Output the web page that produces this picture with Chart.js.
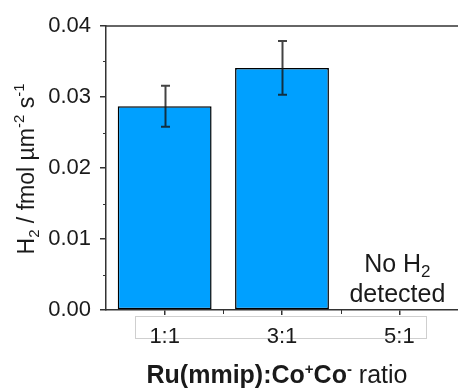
<!DOCTYPE html>
<html>
<head>
<meta charset="utf-8">
<script src="https://cdn.jsdelivr.net/npm/chart.js@4.4.1/dist/chart.umd.min.js"></script>
<style>
  html, body { margin: 0; padding: 0; background: #fff; overflow: hidden; }
  #wrap { width: 458px; height: 392px; }
</style>
</head>
<body>
<div id="wrap"><canvas id="h2Chart" width="458" height="392"></canvas></div>
<script>
// H2 evolution rate per Ru(mmip):Co+Co- ratio
const ratios = ['1:1', '3:1', '5:1'];
const rates = [0.0287, 0.0341, null];     // fmol µm^-2 s^-1, none detected at 5:1
const errLow = [0.0258, 0.0303, null];
const errHigh = [0.0316, 0.0379, null];
const yTicks = [0, 0.01, 0.02, 0.03, 0.04];
const yMinorTicks = [0.005, 0.015, 0.025, 0.035];

const FONT = "'Liberation Sans', Arial, sans-serif";
const AXIS = '#333333';
const TEXT = '#1a1a1a';

// draws a line of text made of runs (sub/superscripts, mixed weights)
function drawRuns(ctx, runs, cx, baseY) {
  let total = 0;
  runs.forEach(r => {
    ctx.font = (r.bold ? 'bold ' : '') + r.size + 'px ' + FONT;
    r.w = ctx.measureText(r.t).width;
    total += r.w;
  });
  let x = cx - total / 2;
  ctx.textAlign = 'left';
  ctx.textBaseline = 'alphabetic';
  runs.forEach(r => {
    ctx.font = (r.bold ? 'bold ' : '') + r.size + 'px ' + FONT;
    ctx.fillText(r.t, x, baseY + (r.dy || 0));
    x += r.w;
  });
}

const extras = {
  id: 'extras',
  beforeDraw(chart) {
    const ctx = chart.ctx;
    const area = chart.chartArea;
    const xs = chart.scales.x;
    // frame round the tick labels
    ctx.save();
    ctx.strokeStyle = '#cfcfcf';
    ctx.lineWidth = 1;
    const l = Math.round(xs.getPixelForValue(0) - 30) + 0.5;
    const r = Math.round(xs.getPixelForValue(2) + 27) + 0.5;
    ctx.strokeRect(l, area.bottom + 6.5, r - l, 22);
    ctx.restore();
  },
  afterDatasetsDraw(chart) {
    const ctx = chart.ctx;
    const area = chart.chartArea;
    const ys = chart.scales.y;
    const xs = chart.scales.x;
    const meta = chart.getDatasetMeta(0);

    // error bars
    ctx.save();
    ctx.strokeStyle = 'rgba(20,20,20,0.8)';
    ctx.lineWidth = 2;
    meta.data.forEach((bar, i) => {
      if (rates[i] == null) return;
      const x = Math.round(bar.x) + 0.5;
      const yh = ys.getPixelForValue(errHigh[i]);
      const yl = ys.getPixelForValue(errLow[i]);
      ctx.beginPath();
      ctx.moveTo(x, yh); ctx.lineTo(x, yl);
      ctx.moveTo(x - 4.5, yh); ctx.lineTo(x + 4.5, yh);
      ctx.moveTo(x - 4.5, yl); ctx.lineTo(x + 4.5, yl);
      ctx.stroke();
    });
    ctx.restore();

    // top frame line and minor ticks
    ctx.save();
    ctx.strokeStyle = AXIS;
    ctx.lineWidth = 1.5;
    ctx.beginPath();
    ctx.moveTo(area.left, area.top);
    ctx.lineTo(chart.width, area.top);
    ctx.stroke();
    ctx.lineWidth = 1;
    ctx.beginPath();
    yMinorTicks.forEach(v => {
      const y = Math.round(ys.getPixelForValue(v)) + 0.5;
      ctx.moveTo(area.left - 3, y); ctx.lineTo(area.left, y);
    });
    for (let i = 0; i < ratios.length - 1; i++) {
      const x = Math.round((xs.getPixelForValue(i) + xs.getPixelForValue(i + 1)) / 2) + 0.5;
      ctx.moveTo(x, area.bottom); ctx.lineTo(x, area.bottom + 4);
    }
    ctx.stroke();
    ctx.restore();

    // note over the empty 5:1 slot
    ctx.save();
    ctx.fillStyle = TEXT;
    const nx = xs.getPixelForValue(2) - 2;
    drawRuns(ctx, [
      { t: 'No H', size: 25 },
      { t: '2', size: 17, dy: 5 }
    ], nx, area.bottom - 38);
    drawRuns(ctx, [{ t: 'detected', size: 25 }], nx, area.bottom - 8);
    ctx.restore();

    // axis titles
    ctx.save();
    ctx.fillStyle = TEXT;
    drawRuns(ctx, [
      { t: 'Ru(mmip):Co', size: 25, bold: true },
      { t: '+', size: 15, bold: true, dy: -9 },
      { t: 'Co', size: 25, bold: true },
      { t: '-', size: 15, bold: true, dy: -9 },
      { t: ' ratio', size: 25 }
    ], 277, 383);

    ctx.translate(34, 169);
    ctx.rotate(-Math.PI / 2);
    drawRuns(ctx, [
      { t: 'H', size: 23 },
      { t: '2', size: 15, dy: 5 },
      { t: ' / fmol µm', size: 23 },
      { t: '-2', size: 15, dy: -10 },
      { t: ' s', size: 23 },
      { t: '-1', size: 15, dy: -10 }
    ], 0, 0);
    ctx.restore();
  }
};

new Chart(document.getElementById('h2Chart'), {
  type: 'bar',
  data: {
    labels: ratios,
    datasets: [{
      data: rates,
      backgroundColor: 'rgb(0,160,255)',
      borderColor: '#000',
      borderWidth: 1.5,
      borderSkipped: false,
      barPercentage: 0.8,
      categoryPercentage: 1
    }]
  },
  options: {
    responsive: false,
    animation: false,
    devicePixelRatio: 1,
    layout: { padding: { top: 26, left: 0, right: 0, bottom: 0 } },
    plugins: { legend: { display: false }, tooltip: { enabled: false } },
    scales: {
      x: {
        offset: true,
        grid: { offset: false, drawOnChartArea: false, tickLength: 5, color: AXIS, lineWidth: 1.5 },
        border: { color: AXIS, width: 1.5 },
        ticks: { color: TEXT, font: { family: FONT, size: 22 }, padding: 9, maxRotation: 0 },
        afterFit(scale) { scale.height = 82; }
      },
      y: {
        min: 0,
        max: 0.04,
        afterBuildTicks(scale) { scale.ticks = yTicks.map(v => ({ value: v })); },
        grid: { drawOnChartArea: false, tickLength: 6, color: AXIS, lineWidth: 1.5 },
        border: { color: AXIS, width: 1.5 },
        ticks: {
          color: TEXT,
          font: { family: FONT, size: 22 },
          padding: 9,
          callback: v => v.toFixed(2)
        },
        afterFit(scale) { scale.width = 106; }
      }
    }
  },
  plugins: [extras]
});
</script>
</body>
</html>
